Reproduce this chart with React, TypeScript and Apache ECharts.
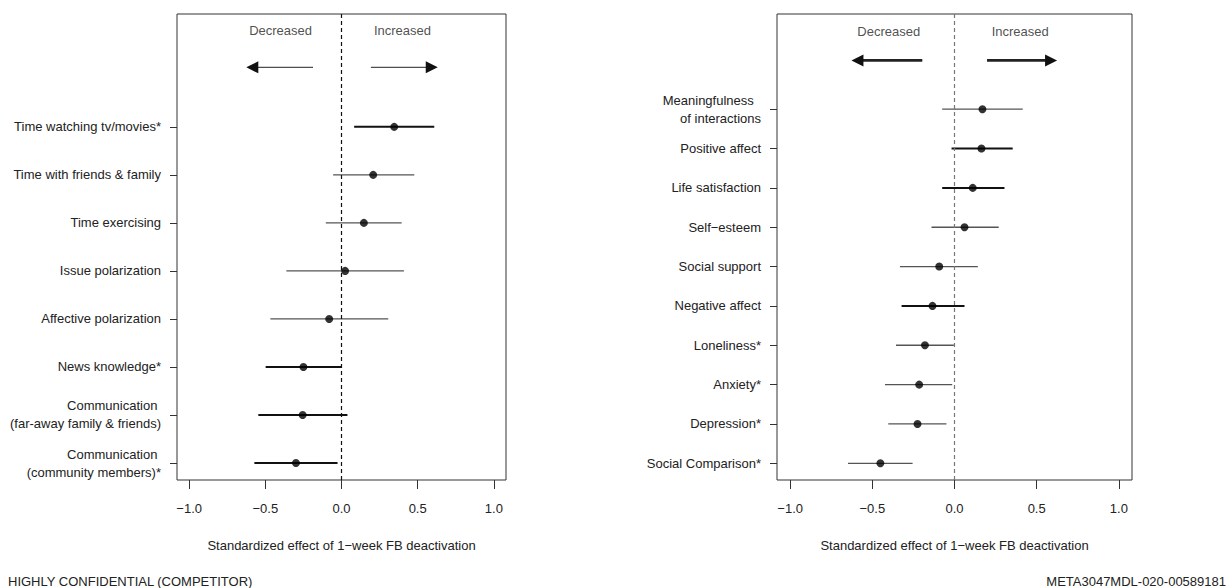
import React, { useEffect, useRef } from "react";
import * as echarts from "echarts";

const FONT = "'Liberation Sans', Arial, Helvetica, sans-serif";

// Left panel (top to bottom)
const leftLabels = [
  "Time watching tv/movies*",
  "Time with friends & family",
  "Time exercising",
  "Issue polarization",
  "Affective polarization",
  "News knowledge*",
  "Communication \n(far-away family & friends)",
  "Communication \n(community members)*",
];
const leftEst = [0.346, 0.208, 0.147, 0.024, -0.081, -0.25, -0.255, -0.299];
const leftLow = [0.083, -0.055, -0.103, -0.362, -0.467, -0.498, -0.546, -0.572];
const leftHigh = [0.609, 0.478, 0.395, 0.41, 0.307, 0.0, 0.039, -0.026];
const leftDark = [1, 0, 0, 0, 0, 1, 1, 1];

// Right panel (top to bottom)
const rightLabels = [
  "Meaningfulness  \nof interactions",
  "Positive affect",
  "Life satisfaction",
  "Self−esteem",
  "Social support",
  "Negative affect",
  "Loneliness*",
  "Anxiety*",
  "Depression*",
  "Social Comparison*",
];
const rightEst = [0.17, 0.164, 0.111, 0.061, -0.093, -0.134, -0.18, -0.215, -0.225, -0.451];
const rightLow = [-0.075, -0.018, -0.075, -0.14, -0.332, -0.322, -0.356, -0.423, -0.403, -0.648];
const rightHigh = [0.415, 0.354, 0.304, 0.269, 0.142, 0.061, -0.004, -0.014, -0.049, -0.255];
const rightDark = [0, 1, 1, 0, 0, 1, 0, 0, 0, 0];

const xTicks = [-1, -0.5, 0, 0.5, 1];
const axisTitle = "Standardized effect of 1−week FB deactivation";
const directionLabels = ["Decreased", "Increased"];

function buildPanel(
  idx: number,
  labels: string[],
  est: number[],
  low: number[],
  high: number[],
  dark: number[],
  yMin: number,
  yMax: number,
  arrowY: number,
  textY: number,
  arrowL: [number, number],
  arrowR: [number, number],
  arrowWidth: number,
  zeroColor: string
) {
  const n = labels.length;
  const yOf = (i: number) => n - i;
  const yTicks = labels.map((_, i) => yOf(i));
  const xAxis = {
    gridIndex: idx,
    type: "value",
    min: -1.08,
    max: 1.08,
    axisLine: { show: false, onZero: false },
    splitLine: { show: false },
    axisTick: { show: true, customValues: xTicks, length: 9, lineStyle: { color: "#333" } },
    axisLabel: {
      customValues: xTicks,
      margin: 22,
      color: "#222",
      fontSize: 13,
      fontFamily: FONT,
      formatter: (v: number) => v.toFixed(1).replace("-", "−"),
    },
    name: axisTitle,
    nameLocation: "middle",
    nameGap: 59,
    nameTextStyle: { color: "#222", fontSize: 13, fontFamily: FONT },
  };
  const yAxis = {
    gridIndex: idx,
    type: "value",
    min: yMin,
    max: yMax,
    axisLine: { show: false, onZero: false },
    splitLine: { show: false },
    axisTick: { show: true, customValues: yTicks, length: 7, lineStyle: { color: "#333" } },
    axisLabel: {
      customValues: yTicks,
      margin: 16,
      color: "#222",
      fontSize: 13,
      fontFamily: FONT,
      align: "right",
      lineHeight: 18,
      formatter: (v: number) => {
        const i = n - Math.round(v);
        return labels[i] ?? "";
      },
    },
  };
  const series: any[] = [
    {
      type: "custom",
      xAxisIndex: idx,
      yAxisIndex: idx,
      silent: true,
      z: 3,
      data: labels.map((_, i) => [low[i], high[i], yOf(i), dark[i]]),
      renderItem: (params: any, api: any) => {
        const a = api.coord([api.value(0), api.value(2)]);
        const b = api.coord([api.value(1), api.value(2)]);
        const d = api.value(3) === 1;
        return {
          type: "line",
          shape: { x1: a[0], y1: a[1], x2: b[0], y2: b[1] },
          style: { stroke: d ? "#111" : "#555", lineWidth: d ? 2 : 1.3 },
        };
      },
    },
    {
      type: "scatter",
      xAxisIndex: idx,
      yAxisIndex: idx,
      symbol: "circle",
      symbolSize: 8,
      itemStyle: { color: "#000" },
      data: est.map((v, i) => [v, yOf(i)]),
      z: 5,
      silent: true,
      markLine: {
        silent: true,
        symbol: ["none", "none"],
        label: { show: false },
        lineStyle: { color: zeroColor, type: [4, 3], width: 1.2 },
        data: [{ xAxis: 0 }],
      },
    },
    {
      type: "custom",
      xAxisIndex: idx,
      yAxisIndex: idx,
      silent: true,
      z: 4,
      data: [
        [arrowL[0], arrowL[1], arrowY],
        [arrowR[0], arrowR[1], arrowY],
      ],
      renderItem: (params: any, api: any) => {
        const a = api.coord([api.value(0), api.value(2)]);
        const b = api.coord([api.value(1), api.value(2)]);
        const dir = b[0] > a[0] ? 1 : -1;
        const headLen = 12;
        const headHalf = 6;
        const baseX = b[0] - dir * headLen;
        return {
          type: "group",
          children: [
            {
              type: "line",
              shape: { x1: a[0], y1: a[1], x2: baseX + dir * 1, y2: b[1] },
              style: { stroke: "#222", lineWidth: arrowWidth },
            },
            {
              type: "polygon",
              shape: {
                points: [
                  [b[0], b[1]],
                  [baseX, b[1] - headHalf],
                  [baseX, b[1] + headHalf],
                ],
              },
              style: { fill: "#111" },
            },
          ],
        };
      },
    },
    {
      type: "scatter",
      xAxisIndex: idx,
      yAxisIndex: idx,
      symbolSize: 0,
      silent: true,
      label: {
        show: true,
        position: "inside",
        formatter: (p: any) => p.name,
        color: "#222",
        fontSize: 13,
        fontFamily: FONT,
      },
      data: [
        { name: directionLabels[0], value: [-0.4, textY] },
        { name: directionLabels[1], value: [0.4, textY] },
      ],
    },
  ];
  return { xAxis, yAxis, series };
}

export default function App() {
  const ref = useRef<HTMLDivElement>(null);
  useEffect(() => {
    if (!ref.current) return;
    const chart = echarts.init(ref.current, undefined, { renderer: "svg" });
    const L = buildPanel(
      0, leftLabels, leftEst, leftLow, leftHigh, leftDark,
      0.646, 10.35, 9.24, 10.0, [-0.187, -0.625], [0.193, 0.632], 1, "#111"
    );
    const R = buildPanel(
      1, rightLabels, rightEst, rightLow, rightHigh, rightDark,
      0.575, 12.42, 11.24, 11.97, [-0.196, -0.627], [0.198, 0.624], 2.6, "#777"
    );
    chart.setOption({
      animation: false,
      backgroundColor: "#fff",
      textStyle: { fontFamily: FONT },
      grid: [
        { left: 177, top: 14, width: 329, height: 466, show: true, borderColor: "#333", borderWidth: 1, backgroundColor: "transparent" },
        { left: 777, top: 14, width: 355, height: 466, show: true, borderColor: "#333", borderWidth: 1, backgroundColor: "transparent" },
      ],
      xAxis: [L.xAxis, R.xAxis],
      yAxis: [L.yAxis, R.yAxis],
      series: [...L.series, ...R.series],
      graphic: [
        {
          type: "text",
          left: 8,
          top: 575,
          style: { text: "HIGHLY CONFIDENTIAL (COMPETITOR)", fill: "#222", fontSize: 13, fontFamily: FONT },
        },
        {
          type: "text",
          right: 2,
          top: 575,
          style: { text: "META3047MDL-020-00589181", fill: "#222", fontSize: 13, fontFamily: FONT },
        },
      ],
    });
    return () => chart.dispose();
  }, []);
  return (
    <div
      ref={ref}
      style={{ position: "fixed", left: 0, top: 0, width: 1228, height: 588, background: "#fff" }}
    />
  );
}
